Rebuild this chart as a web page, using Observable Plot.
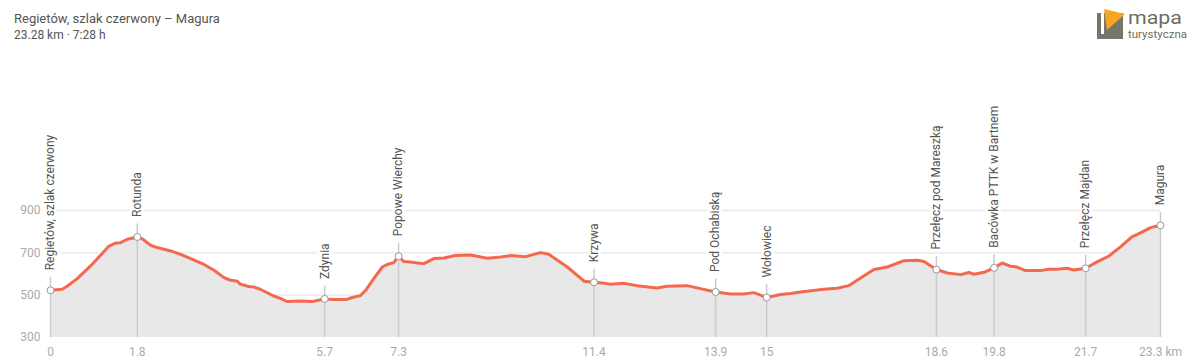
<!DOCTYPE html>
<html>
<head>
<meta charset="utf-8">
<script src="https://cdn.jsdelivr.net/npm/d3@7"></script>
<script src="https://cdn.jsdelivr.net/npm/@observablehq/plot@0.6"></script>
<style>
  html, body { margin: 0; padding: 0; background: #fff; }
  body { font-family: Roboto, "Noto Sans", sans-serif; }
  #wrap { position: relative; width: 1200px; height: 362px; overflow: hidden; }
  #header { position: relative; width: 1200px; height: 48px; }
  .t1 { position: absolute; left: 14px; top: 12px; font-size: 13px; line-height: 1; color: #555; white-space: nowrap; }
  .t2 { position: absolute; left: 14px; top: 29px; font-size: 12px; line-height: 1; color: #555; white-space: nowrap; }
  #logo { position: absolute; left: 1090px; top: 0; }
  #chart svg { display: block; }
</style>
</head>
<body>
<div id="wrap">
  <div id="header">
    <div class="t1">Regietów, szlak czerwony – Magura</div>
    <div class="t2">23.28 km · 7:28 h</div>
    <svg id="logo" width="110" height="48" viewBox="1090 0 110 48">
      <rect x="1097" y="13" width="26" height="26" fill="#77766a"></rect>
      <rect x="1101" y="13" width="3" height="21" fill="#fff"></rect>
      <polygon points="1104,9 1125,14 1107,30" fill="#f7a623"></polygon>
      <text x="1128" y="24" font-family="Roboto, sans-serif" font-size="19" fill="#6f6d5f" textLength="54" lengthAdjust="spacingAndGlyphs">mapa</text>
      <text x="1128" y="38" font-family="Roboto, sans-serif" font-size="10.5" fill="#6f6d5f" textLength="59" lengthAdjust="spacingAndGlyphs">turystyczna</text>
    </svg>
  </div>
  <div id="chart"></div>
</div>
<script>
// Elevation profile: distance (km) and elevation (m)
const distKm = [0, 0.245, 0.35, 0.56, 0.84, 1.08, 1.22, 1.36, 1.47, 1.61, 1.82, 1.92, 2.10, 2.24, 2.52, 2.73, 2.94, 3.22, 3.43, 3.64, 3.78, 3.92, 3.98, 4.16, 4.26, 4.40, 4.68, 4.82, 4.96, 5.24, 5.49, 5.75, 5.94, 6.19, 6.33, 6.50, 6.61, 6.78, 6.96, 7.06, 7.20, 7.30, 7.41, 7.55, 7.70, 7.83, 8.04, 8.25, 8.49, 8.81, 9.16, 9.44, 9.65, 9.96, 10.28, 10.45, 10.84, 11.19, 11.40, 11.57, 11.74, 12.02, 12.30, 12.72, 12.93, 13.35, 13.63, 13.95, 14.26, 14.54, 14.75, 15.02, 15.17, 15.31, 15.52, 15.73, 16.22, 16.50, 16.74, 16.99, 17.27, 17.55, 17.90, 18.18, 18.32, 18.58, 18.81, 19.09, 19.26, 19.37, 19.58, 19.79, 19.96, 20.13, 20.27, 20.45, 20.76, 20.94, 21.11, 21.32, 21.46, 21.71, 21.95, 22.20, 22.44, 22.68, 22.86, 23.07, 23.28];
const elevM = [523, 528, 542, 578, 638, 696, 731, 746, 748, 764, 775, 767, 736, 725, 709, 693, 673, 645, 618, 583, 570, 566, 552, 541, 539, 528, 496, 485, 470, 473, 470, 482, 479, 479, 489, 498, 523, 578, 633, 645, 654, 684, 659, 657, 652, 649, 673, 676, 687, 690, 674, 680, 687, 682, 701, 693, 633, 566, 561, 558, 552, 556, 545, 534, 542, 545, 531, 515, 506, 506, 512, 489, 496, 503, 508, 515, 528, 533, 545, 581, 621, 633, 663, 665, 659, 621, 605, 597, 607, 599, 608, 629, 652, 637, 633, 616, 616, 622, 622, 627, 619, 627, 657, 685, 728, 775, 794, 819, 830];

// Waypoints
const wpNames = ["Regietów, szlak czerwony", "Rotunda", "Zdynia", "Popowe Wierchy", "Krzywa", "Pod Ochabiską", "Wołowiec", "Przełęcz pod Mareszką", "Bacówka PTTK w Bartnem", "Przełęcz Majdan", "Magura"];
const wpDist = [0, 1.82, 5.75, 7.30, 11.40, 13.95, 15.02, 18.58, 19.79, 21.71, 23.28];
const wpElev = [523, 775, 482, 684, 561, 515, 489, 621, 629, 627, 830];

// Axis ticks
const xTicks = [0, 1.82, 5.75, 7.30, 11.40, 13.95, 15.02, 18.58, 19.79, 21.71, 23.28];
const xTickLabels = ["0", "1.8", "5.7", "7.3", "11.4", "13.9", "15", "18.6", "19.8", "21.7", "23.3 km"];
const yTicks = [300, 500, 700, 900];
const yGrid = [500, 700, 900];
const yBase = 300;

const profile = distKm.map((d, i) => ({d, e: elevM[i]}));
const waypoints = wpNames.map((name, i) => ({name, d: wpDist[i], e: wpElev[i]}));
const xLabelMap = new Map(xTicks.map((t, i) => [t, xTickLabels[i]]));

const chart = Plot.plot({
  width: 1200,
  height: 314,
  marginLeft: 50,
  marginRight: 40,
  marginTop: 162,
  marginBottom: 25,
  x: {domain: [0, 23.28]},
  y: {domain: [300, 900]},
  style: {fontFamily: "Roboto, sans-serif", fontSize: "12px", background: "#fff", overflow: "visible"},
  marks: [
    Plot.gridY(yGrid, {stroke: "#eeeeee", strokeOpacity: 1, strokeWidth: 2}),
    Plot.areaY(profile, {x: "d", y1: () => yBase, y2: "e", fill: "#e8e8e8"}),
    Plot.ruleX(waypoints, {x: "d", y1: "e", y2: () => yBase, insetTop: -13, stroke: "#cccccc", strokeWidth: 1.5}),
    Plot.line(profile, {x: "d", y: "e", stroke: "#f4694d", strokeWidth: 3, strokeLinejoin: "round", strokeLinecap: "round"}),
    Plot.dot(waypoints, {x: "d", y: "e", r: 3.5, fill: "#fff", stroke: "#999", strokeWidth: 1}),
    Plot.text(waypoints, {x: "d", y: "e", text: "name", rotate: -90, textAnchor: "start", dy: -20, fill: "#555", stroke: "#fff", strokeWidth: 6, paintOrder: "stroke", fontSize: 12}),
    Plot.axisY(yTicks, {tickSize: 0, tickPadding: 10, fill: "#aaaaaa", label: null, fontSize: 12}),
    Plot.axisX(xTicks, {tickSize: 0, tickPadding: 10, fill: "#aaaaaa", label: null, fontSize: 12, tickFormat: (t) => xLabelMap.get(t)})
  ]
});
document.getElementById("chart").appendChild(chart);
</script>
</body>
</html>
